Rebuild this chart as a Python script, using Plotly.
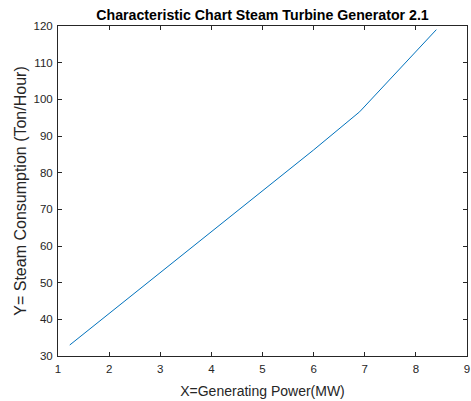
import plotly.graph_objects as go

power_mw = [1.23, 2, 3, 4, 5, 6, 6.9, 7.5, 8, 8.4]
steam_ton_hr = [33.0, 41.6, 52.7, 63.9, 75.0, 86.2, 96.6, 105.5, 113.0, 119.0]

x_ticks = [1, 2, 3, 4, 5, 6, 7, 8, 9]
y_ticks = [30, 40, 50, 60, 70, 80, 90, 100, 110, 120]

axis_color = "#262626"
font_family = "Liberation Sans, Arial, sans-serif"

fig = go.Figure()
fig.add_trace(go.Scatter(x=power_mw, y=steam_ton_hr, mode="lines",
                         line=dict(color="#0072BD", width=1), showlegend=False))

fig.update_layout(
    width=471, height=401,
    margin=dict(l=58, r=4, t=26, b=45),
    paper_bgcolor="white", plot_bgcolor="white",
    font=dict(family=font_family, size=11, color=axis_color),
    title=dict(text="<b>Characteristic Chart Steam Turbine Generator 2.1</b>",
               x=0.5, xref="paper", xanchor="center", y=1, yref="paper", yanchor="bottom",
               pad=dict(b=6),
               font=dict(size=14.2, color="#000000", family=font_family)),
)
fig.update_xaxes(
    range=[1, 9], tickvals=x_ticks, ticktext=[str(v) for v in x_ticks],
    automargin=False, ticklabeloverflow="allow", ticklabelstandoff=2,
    showgrid=False, zeroline=False, showline=True, linecolor=axis_color, linewidth=1,
    mirror="ticks", ticks="inside", ticklen=4, tickcolor=axis_color,
    tickfont=dict(size=11.5, color=axis_color),
    title=dict(text="X=Generating Power(MW)", font=dict(size=14, color=axis_color), standoff=12),
)
fig.update_yaxes(
    range=[30, 120], tickvals=y_ticks, ticktext=[str(v) for v in y_ticks],
    automargin=False, ticklabeloverflow="allow", ticklabelstandoff=2,
    showgrid=False, zeroline=False, showline=True, linecolor=axis_color, linewidth=1,
    mirror="ticks", ticks="inside", ticklen=4, tickcolor=axis_color,
    tickfont=dict(size=11.5, color=axis_color),
    title=dict(text="Y= Steam Consumption (Ton/Hour)", font=dict(size=16, color=axis_color), standoff=2),
)

fig.write_html("out.html",
               config={"displayModeBar": False},
               post_script="document.body.style.margin='0';document.body.style.overflow='hidden';")
